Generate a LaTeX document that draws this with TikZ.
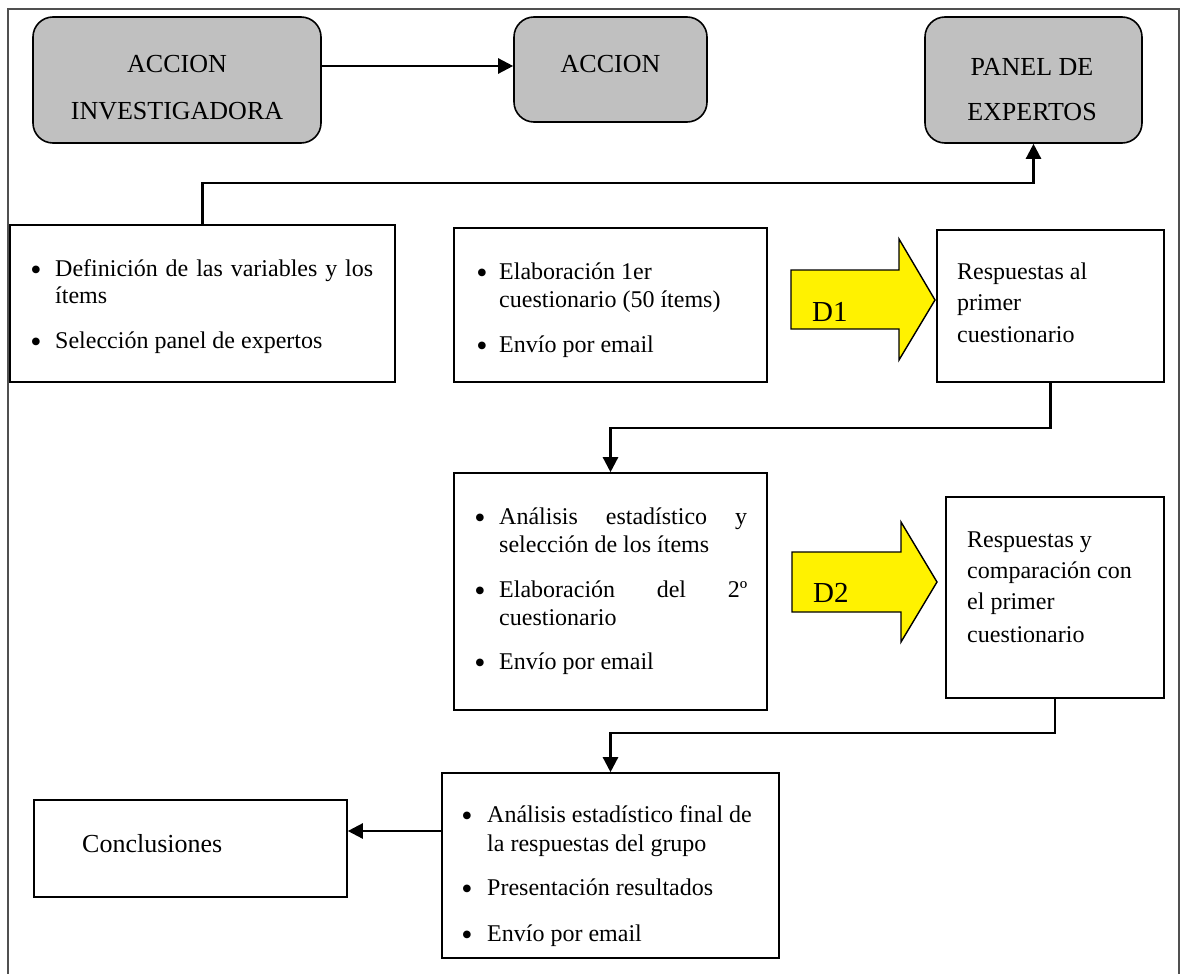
\documentclass[tikz,border=0pt]{standalone}
\usepackage{fontspec}
\setmainfont{Liberation Serif}
\usetikzlibrary{arrows.meta}
\definecolor{boxgray}{HTML}{C0C0C0}
\definecolor{framegray}{HTML}{505050}
\begin{document}
\begin{tikzpicture}[x=1pt,y=-1pt,
  outer/.style={draw=framegray, line width=1.1pt},
  graybox/.style={draw, line width=1.6pt, fill=boxgray, rounded corners=20pt, inner sep=0pt},
  whitebox/.style={draw, line width=1.6pt, fill=white, inner sep=0pt},
  conn/.style={line width=2.4pt, -{Triangle[length=15pt,width=15pt]}},
  bigtxt/.style={font=\fontsize{26}{30}\selectfont, inner sep=0pt, anchor=base},
  txt/.style={font=\fontsize{24}{27}\selectfont, inner sep=0pt, anchor=base west},
  bul/.style={font=\fontsize{32}{34}\selectfont, inner sep=0pt, anchor=base, yshift=-4pt},
  dlabel/.style={font=\fontsize{29}{32}\selectfont, inner sep=0pt, anchor=base west},
  darrow/.style={draw, line width=1.4pt, fill=yellow, line join=miter}
]
\useasboundingbox (0,0) rectangle (1183,974);

% open frame around the chart
\draw[outer] (8,974) -- (8,9) -- (1179,9) -- (1179,974);

% header boxes
\node[graybox, minimum width=288pt, minimum height=126pt] (A) at (177,80) {};
\node[graybox, minimum width=193pt, minimum height=105pt] (B) at (610.5,69.5) {};
\node[graybox, minimum width=217pt, minimum height=126pt] (C) at (1033.5,80) {};
\node[bigtxt] (A1) at (177,73) {ACCION};
\node[bigtxt] (A2) at (177,119) {INVESTIGADORA};
\node[bigtxt] (B1) at (610.5,73) {ACCION};
\node[bigtxt] (C1) at (1032,75) {PANEL DE};
\node[bigtxt] (C2) at (1032,120) {EXPERTOS};

% process boxes
\node[whitebox, minimum width=385pt, minimum height=157pt] (D) at (202.5,303.5) {};
\node[whitebox, minimum width=313pt, minimum height=154pt] (E) at (610.5,305) {};
\node[whitebox, minimum width=227pt, minimum height=152pt] (F) at (1050.5,306) {};
\node[whitebox, minimum width=313pt, minimum height=237pt] (G) at (610.5,591.5) {};
\node[whitebox, minimum width=218pt, minimum height=201pt] (H) at (1055,597.5) {};
\node[whitebox, minimum width=337pt, minimum height=185pt] (I) at (610.5,865.5) {};
\node[whitebox, minimum width=313pt, minimum height=97pt] (J) at (190.5,848.5) {};

% box D
\node[bul] (Db1) at (36,276) {•};
\node[txt] (D1) at (55,276) {\makebox[318pt][s]{Definición de las variables y los}};
\node[txt] (D2) at (55,303) {ítems};
\node[bul] (Db2) at (36,348) {•};
\node[txt] (D3) at (55,348) {Selección panel de expertos};

% box E
\node[bul] (Eb1) at (482,279) {•};
\node[txt] (E1) at (499,279) {Elaboración 1er};
\node[txt] (E2) at (499,307) {cuestionario (50 ítems)};
\node[bul] (Eb2) at (482,352) {•};
\node[txt] (E3) at (499,352) {Envío por email};

% box F
\node[txt] (F1) at (957,279) {Respuestas al};
\node[txt] (F2) at (957,310) {primer};
\node[txt] (F3) at (957,342) {cuestionario};

% box G
\node[bul] (Gb1) at (480,524) {•};
\node[txt] (G1) at (499,524) {\makebox[248pt][s]{Análisis\hfill estadístico\hfill y}};
\node[txt] (G2) at (499,552) {selección de los ítems};
\node[bul] (Gb2) at (480,597) {•};
\node[txt] (G3) at (499,597) {\makebox[248pt][s]{Elaboración\hfill del\hfill 2º}};
\node[txt] (G4) at (499,625) {cuestionario};
\node[bul] (Gb3) at (480,669) {•};
\node[txt] (G5) at (499,669) {Envío por email};

% box H
\node[txt] (H1) at (967,547) {Respuestas y};
\node[txt] (H2) at (967,578) {comparación con};
\node[txt] (H3) at (967,609) {el primer};
\node[txt] (H4) at (967,642) {cuestionario};

% box I
\node[bul] (Ib1) at (467,822) {•};
\node[txt] (I1) at (487,822) {Análisis estadístico final de};
\node[txt] (I2) at (487,851) {la respuestas del grupo};
\node[bul] (Ib2) at (467,895) {•};
\node[txt] (I3) at (487,895) {Presentación resultados};
\node[bul] (Ib3) at (467,941) {•};
\node[txt] (I4) at (487,941) {Envío por email};

% box J
\node[bigtxt, anchor=base west] (J1) at (82,852) {Conclusiones};

% yellow block arrows
\draw[darrow] (791,270) -- (899,270) -- (899,239) -- (935,300) -- (899,360) -- (899,329) -- (791,329) -- cycle;
\node[dlabel] (L1) at (812,321) {D1};
\draw[darrow] (792,552) -- (901,552) -- (901,522) -- (937,582) -- (901,642) -- (901,612) -- (792,612) -- cycle;
\node[dlabel] (L2) at (813,602) {D2};

% connectors
\draw[conn] (A.east |- 0,66) -- ([yshift=3.5pt]B.west);
\coordinate (dc) at (0,183);
\draw[conn] (D.north) |- (C.south |- dc) -- (C.south);
\coordinate (fg) at (0,428);
\draw[conn] (F.south) |- (G.north |- fg) -- (G.north);
\coordinate (hi) at (0,733);
\draw[conn] (H.south) |- (I.north |- hi) -- (I.north);
\draw[conn] (I.west |- 0,831) -- (J.east |- 0,831);
\end{tikzpicture}
\end{document}
